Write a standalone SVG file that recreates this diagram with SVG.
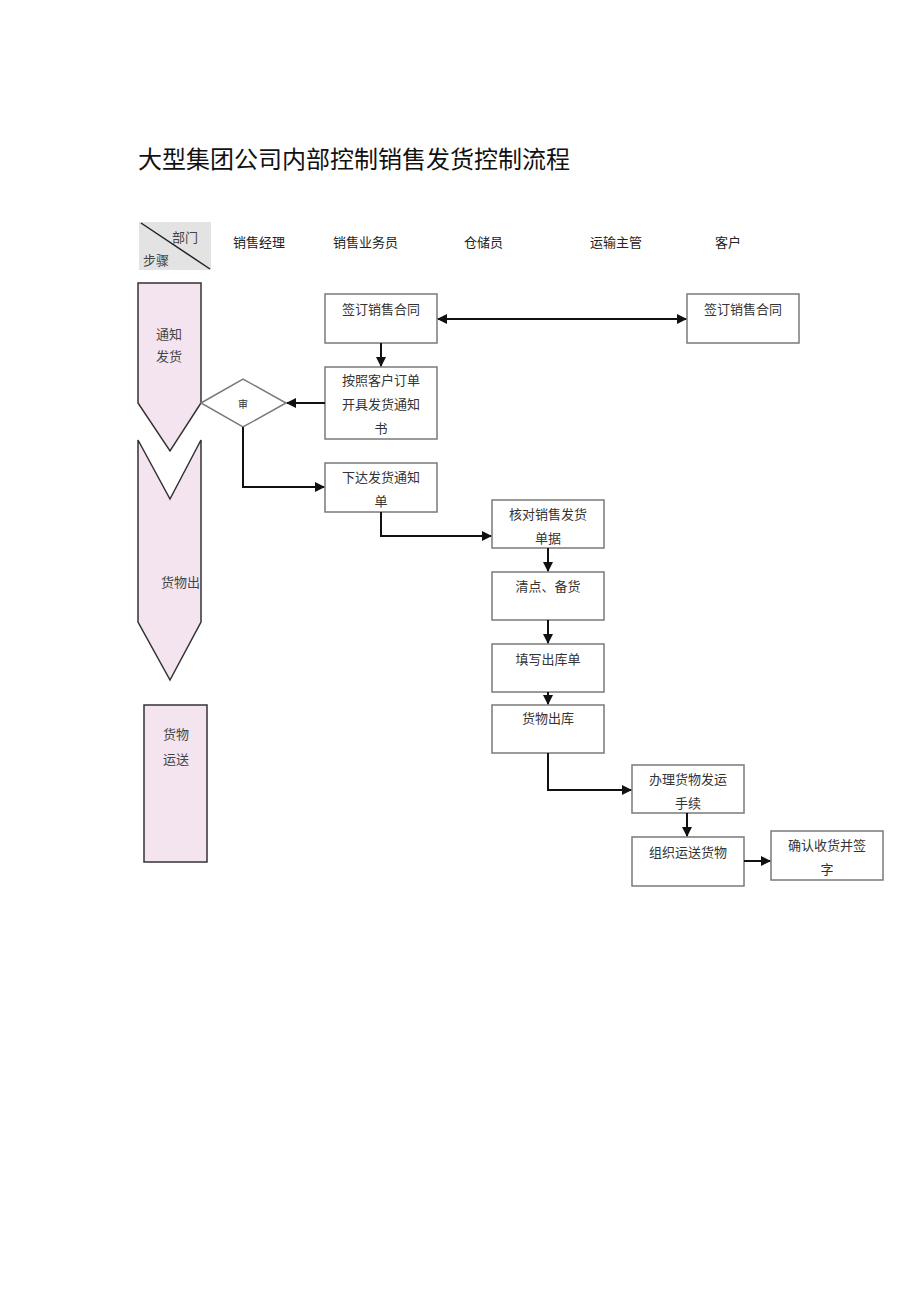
<svg xmlns="http://www.w3.org/2000/svg" width="920" height="1301" viewBox="0 0 920 1301">
<style>
text{font-family:"Liberation Serif","Noto Sans CJK SC",serif;fill:#333;}
.t{font-size:13px;text-anchor:middle;}
.h{font-size:13px;fill:#222;}
.box{fill:#fff;stroke:#7a7a7a;stroke-width:1.5;}
.phase{fill:#f3e4f0;stroke:#333;stroke-width:1.5;}
.c{fill:none;stroke:#111;stroke-width:2;}
</style>
<defs>
<marker id="ah" viewBox="0 0 10 10" refX="9" refY="5" markerWidth="5" markerHeight="5" orient="auto-start-reverse">
<path d="M0,0 L10,5 L0,10 Z" fill="#111"/>
</marker>
</defs>
<rect width="920" height="1301" fill="#fff"/>
<text x="138" y="168" style="font-size:24px;fill:#111">大型集团公司内部控制销售发货控制流程</text>

<g id="header">
<rect x="139" y="222" width="72" height="48" fill="#e3e3e3"/>
<line x1="141" y1="223" x2="210" y2="269" stroke="#222" stroke-width="1.5"/>
<text x="172" y="242" class="h" style="fill:#444">部门</text>
<text x="143" y="265" class="h" style="fill:#444">步骤</text>
<text x="233" y="247" class="h">销售经理</text>
<text x="333" y="247" class="h">销售业务员</text>
<text x="464" y="247" class="h">仓储员</text>
<text x="590" y="247" class="h">运输主管</text>
<text x="715" y="247" class="h">客户</text>
</g>

<g id="phase1">
<path class="phase" d="M138,283 L201,283 L201,403 L170,451 L138,403 Z"/>
<text x="156" y="339" class="h" style="fill:#444">通知</text>
<text x="156" y="361" class="h" style="fill:#444">发货</text>
</g>
<g id="phase2">
<path class="phase" d="M138,440 L170,499 L201,440 L201,622 L170,680 L138,622 Z"/>
<text x="161" y="587" class="h" style="fill:#444">货物出</text>
</g>
<g id="phase3">
<rect class="phase" x="144" y="705" width="63" height="157"/>
<text x="163" y="739" class="h" style="fill:#444">货物</text>
<text x="163" y="764" class="h" style="fill:#444">运送</text>
</g>

<g id="n1"><rect class="box" x="325" y="294" width="112" height="49"/><text class="t" x="381" y="314">签订销售合同</text></g>
<g id="n2"><rect class="box" x="325" y="367" width="112" height="72"/><text class="t" x="381" y="385">按照客户订单</text><text class="t" x="381" y="409">开具发货通知</text><text class="t" x="381" y="433">书</text></g>
<g id="d1"><path d="M201,403 L243,379 L286,403 L243,427 Z" fill="#fff" stroke="#7a7a7a" stroke-width="1.5"/><text x="243" y="408" style="font-size:10px;text-anchor:middle">审</text></g>
<g id="n3"><rect class="box" x="325" y="463" width="112" height="49"/><text class="t" x="381" y="482">下达发货通知</text><text class="t" x="381" y="506">单</text></g>
<g id="n4"><rect class="box" x="492" y="500" width="112" height="48"/><text class="t" x="548" y="519">核对销售发货</text><text class="t" x="548" y="543">单据</text></g>
<g id="n5"><rect class="box" x="492" y="572" width="112" height="48"/><text class="t" x="548" y="591">清点、备货</text></g>
<g id="n6"><rect class="box" x="492" y="644" width="112" height="48"/><text class="t" x="548" y="664">填写出库单</text></g>
<g id="n7"><rect class="box" x="492" y="705" width="112" height="48"/><text class="t" x="548" y="723">货物出库</text></g>
<g id="n8"><rect class="box" x="632" y="765" width="112" height="48"/><text class="t" x="688" y="784">办理货物发运</text><text class="t" x="688" y="808">手续</text></g>
<g id="n9"><rect class="box" x="632" y="837" width="112" height="49"/><text class="t" x="688" y="857">组织运送货物</text></g>
<g id="n10"><rect class="box" x="771" y="831" width="112" height="49"/><text class="t" x="827" y="850">确认收货并签</text><text class="t" x="827" y="874">字</text></g>
<g id="n11"><rect class="box" x="687" y="294" width="112" height="49"/><text class="t" x="743" y="314">签订销售合同</text></g>

<g id="connectors">
<line class="c" x1="438" y1="319" x2="686" y2="319" marker-start="url(#ah)" marker-end="url(#ah)"/>
<line class="c" x1="381" y1="343" x2="381" y2="366" marker-end="url(#ah)"/>
<line class="c" x1="325" y1="403" x2="287" y2="403" marker-end="url(#ah)"/>
<polyline class="c" points="243,427 243,487 324,487" marker-end="url(#ah)"/>
<polyline class="c" points="381,512 381,536 491,536" marker-end="url(#ah)"/>
<line class="c" x1="548" y1="548" x2="548" y2="571" marker-end="url(#ah)"/>
<line class="c" x1="548" y1="620" x2="548" y2="643" marker-end="url(#ah)"/>
<line class="c" x1="548" y1="692" x2="548" y2="704" marker-end="url(#ah)"/>
<polyline class="c" points="548,753 548,790 631,790" marker-end="url(#ah)"/>
<line class="c" x1="687" y1="813" x2="687" y2="836" marker-end="url(#ah)"/>
<line class="c" x1="744" y1="861" x2="770" y2="861" marker-end="url(#ah)"/>
</g>
</svg>
